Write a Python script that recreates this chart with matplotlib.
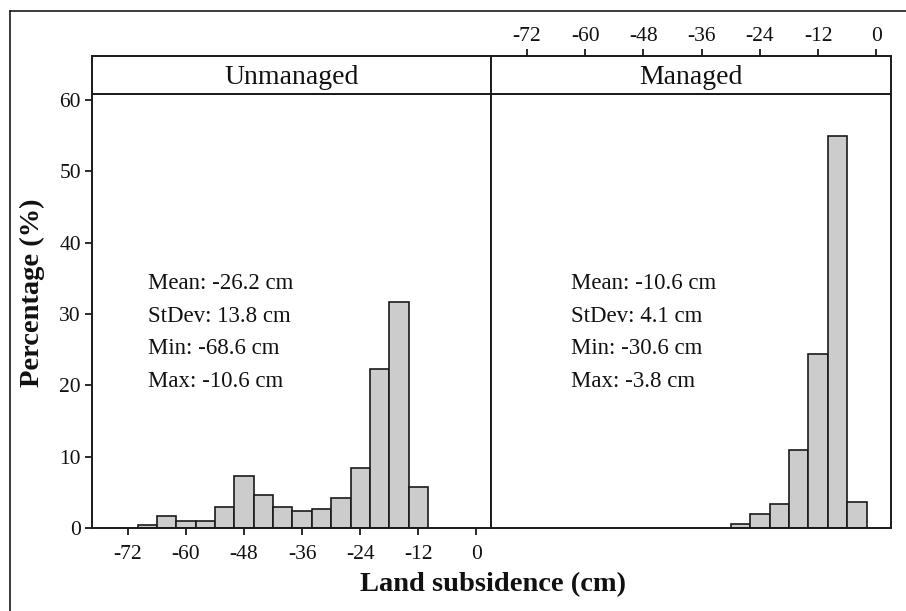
import matplotlib
matplotlib.use("Agg")
import matplotlib.pyplot as plt
from matplotlib.lines import Line2D
import numpy as np

# ---- data ----
panels = ["Unmanaged", "Managed"]
unmanaged_bin_left = [-70, -66, -62, -58, -54, -50, -46, -42, -38, -34, -30, -26, -22, -18, -14]
unmanaged_pct = [0.4, 1.7, 1.0, 1.0, 2.9, 7.3, 4.6, 2.9, 2.4, 2.6, 4.2, 8.4, 22.3, 31.7, 5.8]
managed_bin_left = [-30, -26, -22, -18, -14, -10, -6]
managed_pct = [0.6, 1.9, 3.3, 11.0, 24.4, 54.9, 3.7]
bin_width = 4
x_ticks = [-72, -60, -48, -36, -24, -12, 0]
y_ticks = [0, 10, 20, 30, 40, 50, 60]
unmanaged_stats = ["Mean: -26.2 cm", "StDev: 13.8 cm", "Min: -68.6 cm", "Max: -10.6 cm"]
managed_stats = ["Mean: -10.6 cm", "StDev: 4.1 cm", "Min: -30.6 cm", "Max: -3.8 cm"]
stat_y = [33.5, 28.9, 24.4, 19.8]
stat_x = [-67.8, -62.9]

W, H = 906, 611
FONT = "Liberation Serif"
plt.rcParams['font.family'] = [FONT, 'DejaVu Serif']

fig = plt.figure(figsize=(W / 100, H / 100), dpi=100)

def fr(x0, y0, x1, y1):
    return [x0 / W, 1 - y1 / H, (x1 - x0) / W, (y1 - y0) / H]

xlim = (-79.4, 3.0)
ylim = (0, 60.84)
LW = 1.4

ax_l = fig.add_axes(fr(92, 94, 491, 528))
ax_r = fig.add_axes(fr(491, 94, 891, 528))
st_l = fig.add_axes(fr(92, 56, 491, 94))
st_r = fig.add_axes(fr(491, 56, 891, 94))

for ax, lefts, pct, stats, sx in [
    (ax_l, unmanaged_bin_left, unmanaged_pct, unmanaged_stats, stat_x[0]),
    (ax_r, managed_bin_left, managed_pct, managed_stats, stat_x[1]),
]:
    ax.bar(np.array(lefts), pct, width=bin_width, align='edge',
           color='#cccccc', edgecolor='#1a1a1a', linewidth=1.2, zorder=2)
    ax.set_xlim(*xlim)
    ax.set_ylim(*ylim)
    for s in ax.spines.values():
        s.set_linewidth(LW)
        s.set_color('#1a1a1a')
    for t, yv in zip(stats, stat_y):
        ax.text(sx, yv, t, ha='left', va='baseline', fontsize=16.5,
                family=FONT, color='#111111')

# left panel axes ticks
ax_l.set_xticks(x_ticks)
ax_l.set_xticklabels([str(v) for v in x_ticks])
ax_l.set_yticks(y_ticks)
ax_l.set_yticklabels([str(v) for v in y_ticks])
ax_l.tick_params(axis='both', direction='out', length=5, width=1.3,
                 labelsize=15.5, color='#1a1a1a', labelcolor='#111111')
ax_l.tick_params(axis='x', pad=7)
ax_l.tick_params(axis='y', pad=3)

ax_r.set_xticks([])
ax_r.set_yticks([])

# strips
for st, name in [(st_l, panels[0]), (st_r, panels[1])]:
    st.set_xlim(*xlim)
    st.set_ylim(0, 1)
    st.set_yticks([])
    for s in st.spines.values():
        s.set_linewidth(LW)
        s.set_color('#1a1a1a')
    st.text(0.5, 0.276, name, transform=st.transAxes, ha='center',
            va='baseline', fontsize=20, family=FONT, color='#111111')

st_l.set_xticks([])
st_r.xaxis.set_ticks_position('top')
st_r.set_xticks(x_ticks)
st_r.set_xticklabels([str(v) for v in x_ticks])
st_r.tick_params(axis='x', direction='out', length=5, width=1.3,
                 labelsize=15.5, pad=2, color='#1a1a1a', labelcolor='#111111')

# axis labels
fig.text(32 / W, 1 - 292.5 / H, "Percentage (%)", rotation=90, ha='center',
         va='center', fontsize=20.5, fontweight='bold', family=FONT, color='#111111')
fig.text(493 / W, 1 - 591 / H, "Land subsidence (cm)", ha='center',
         va='baseline', fontsize=20.5, fontweight='bold', family=FONT, color='#111111')

# outer frame (top and left edges visible)
fig.add_artist(Line2D([10 / W, 10 / W], [0, 1 - 11 / H], transform=fig.transFigure,
                      color='#1a1a1a', linewidth=1.2))
fig.add_artist(Line2D([10 / W, 1], [1 - 11 / H, 1 - 11 / H], transform=fig.transFigure,
                      color='#1a1a1a', linewidth=1.2))

fig.savefig("out.png", dpi=100)
